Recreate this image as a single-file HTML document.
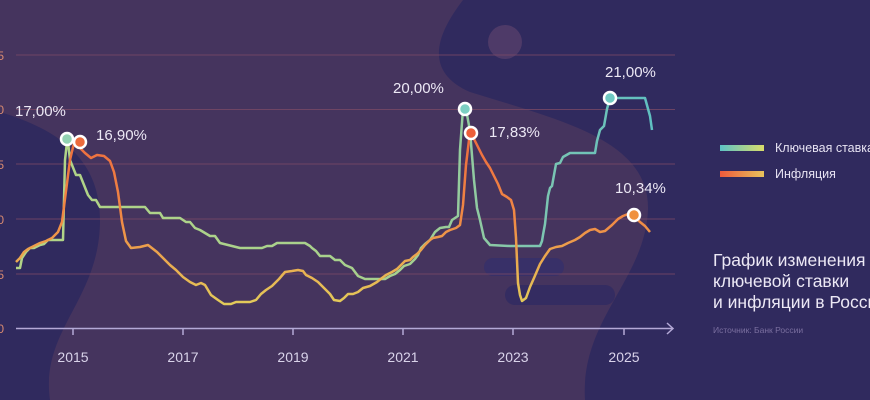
<!DOCTYPE html>
<html><head><meta charset="utf-8"><style>
html,body{margin:0;padding:0;background:#45345e;}
svg{display:block;font-family:"Liberation Sans","DejaVu Sans",sans-serif;}
</style></head><body>
<svg width="870" height="400" viewBox="0 0 870 400" xmlns="http://www.w3.org/2000/svg">
<defs>
<linearGradient id="gi" gradientUnits="userSpaceOnUse" x1="0" y1="130" x2="0" y2="310">
<stop offset="0" stop-color="#ee6a3e"/><stop offset="0.5" stop-color="#f08a45"/><stop offset="1" stop-color="#e2cf5c"/></linearGradient>
<linearGradient id="gk" gradientUnits="userSpaceOnUse" x1="16" y1="0" x2="660" y2="0">
<stop offset="0" stop-color="#b2d487"/><stop offset="0.6" stop-color="#a6d08e"/><stop offset="0.8" stop-color="#7fc6b0"/><stop offset="1" stop-color="#5ebfc2"/></linearGradient>
<linearGradient id="lk" x1="0" x2="1"><stop offset="0" stop-color="#5ec3c6"/><stop offset="1" stop-color="#d9dc6a"/></linearGradient>
<linearGradient id="li" x1="0" x2="1"><stop offset="0" stop-color="#ee5a3c"/><stop offset="1" stop-color="#e8c35c"/></linearGradient>
</defs>
<rect width="870" height="400" fill="#45345e"/>
<path d="M463,0 C440,30 420,70 470,92 C560,120 650,140 648,210 C645,280 580,320 585,400 L870,400 L870,0 Z" fill="#302a5e"/>
<path d="M0,112 C60,130 100,160 100,220 C100,300 40,330 50,400 L0,400 Z" fill="#302a5e"/>
<circle cx="505" cy="42" r="17" fill="#4e3a68"/>
<rect x="484" y="258" width="80" height="18" rx="9" fill="#35306a" opacity="0.8"/>
<rect x="505" y="285" width="110" height="20" rx="10" fill="#2f2a62" opacity="0.8"/>
<g stroke="#7a4a66" stroke-width="1" opacity="0.8">
<line x1="16" y1="55" x2="675" y2="55"/><line x1="16" y1="109.5" x2="675" y2="109.5"/>
<line x1="16" y1="164" x2="675" y2="164"/><line x1="16" y1="219" x2="675" y2="219"/>
<line x1="16" y1="274" x2="675" y2="274"/></g>
<g stroke="#b4a9d6" stroke-width="1.5" fill="none">
<line x1="16" y1="328.5" x2="673" y2="328.5"/><polyline points="667,323 673,328.5 667,334"/>
<line x1="73" y1="328" x2="73" y2="335"/><line x1="183" y1="328" x2="183" y2="335"/>
<line x1="293" y1="328" x2="293" y2="335"/><line x1="403" y1="328" x2="403" y2="335"/>
<line x1="513" y1="328" x2="513" y2="335"/><line x1="624" y1="328" x2="624" y2="335"/></g>
<g fill="#d9d3ea" font-size="14" text-anchor="middle">
<text x="73" y="362">2015</text><text x="183" y="362">2017</text><text x="293" y="362">2019</text>
<text x="403" y="362">2021</text><text x="513" y="362">2023</text><text x="624" y="362">2025</text></g>
<g fill="#d98a70" font-size="12" text-anchor="end">
<text x="4" y="60">25</text><text x="4" y="114">20</text><text x="4" y="169">15</text><text x="4" y="224">10</text><text x="4" y="279">5</text><text x="4" y="333">0</text></g>
<polyline fill="none" stroke="url(#gk)" stroke-width="2.5" stroke-linejoin="round" points="16,268 20,268 22,258 26,252 30,248 34,248 40,245 44,244 48,240 60,240 63,240 65,160 67,142 68,142 70,160 74,170 76,175 80,175 84,185 88,195 92,200 96,200 100,207 145,207 150,213 160,213 163,218 180,218 186,222 190,222 195,228 200,230 205,233 210,236 215,236 220,243 232,246 240,248 262,248 267,246 272,246 277,243 305,243 310,246 312,248 316,251 320,256 330,256 335,260 340,260 345,265 352,268 358,276 365,279 385,279 390,276 395,274 400,270 404,266 410,264 415,259 418,255 421,248 425,244 430,240 435,232 440,228 446,227 449,227 452,220 458,216 460,150 463,109 466,109 470,131 474,180 477,208 480,220 484,238 490,245 510,246 540,246 542,241 543,235 545,224 548,196 550,188 552,186 556,164 560,163 563,157 570,153 595,153 597,141 600,130 604,126 607,109 610,98 645,98 650,116 652,130"/>
<polyline fill="none" stroke="url(#gi)" stroke-width="2.5" stroke-linejoin="round" points="16,262 20,258 24,252 28,249 34,246 40,243 46,241 52,238 58,232 62,222 66,191 70,160 74,143 79,147 85,153 91,158 97,155 104,156 110,161 114,172 118,192 122,222 126,241 131,248 140,247 148,245 157,252 163,258 170,265 176,270 183,277 190,282 196,285 201,283 205,285 211,295 218,300 224,304 231,304 236,302 245,302 250,302 256,300 261,294 266,290 272,286 279,279 285,272 292,271 298,270 303,271 306,275 312,278 318,282 324,288 330,294 334,300 340,301 344,298 348,294 353,294 358,292 363,288 370,286 377,282 382,278 386,275 392,272 397,269 401,265 405,261 410,260 413,257 417,254 421,250 425,245 430,240 433,238 438,237 442,236 446,232 450,230 456,228 460,225 463,205 466,165 469,140 471,133 474,139 478,147 482,155 486,162 490,168 494,176 498,184 502,194 507,197 511,200 514,210 516,238 518,283 520,295 522,301 526,298 530,287 534,278 540,264 545,256 550,249 556,247 562,246 568,243 575,240 580,237 585,233 590,230 595,229 600,232 605,231 612,225 618,219 623,216 628,214 634,216 640,222 645,226 650,232"/>
<g stroke="#ffffff" stroke-width="2.5">
<circle cx="67" cy="139" r="6" fill="#93d2b3"/>
<circle cx="80" cy="142" r="6" fill="#ec6a3c"/>
<circle cx="465" cy="109" r="6" fill="#7ccfc2"/>
<circle cx="471" cy="133" r="6" fill="#ec5f3a"/>
<circle cx="610" cy="98" r="6" fill="#6fc9c2"/>
<circle cx="634" cy="215" r="6" fill="#f0913e"/></g>
<g fill="#ece8f5" font-size="15">
<text x="15" y="116">17,00%</text><text x="96" y="140">16,90%</text>
<text x="393" y="93">20,00%</text><text x="489" y="137">17,83%</text>
<text x="605" y="77">21,00%</text><text x="615" y="193">10,34%</text></g>
<rect x="720" y="145" width="44" height="6" fill="url(#lk)"/>
<rect x="720" y="171" width="44" height="6" fill="url(#li)"/>
<g fill="#e6e2f2" font-size="12.5"><text x="775" y="152">Ключевая ставка</text><text x="775" y="178">Инфляция</text></g>
<g fill="#ece8f5" font-size="17.5"><text x="713" y="266">График изменения</text><text x="713" y="287">ключевой ставки</text><text x="713" y="308">и инфляции в России</text></g>
<text x="713" y="333" fill="#7a6f9f" font-size="8.5">Источник: Банк России</text>
</svg>
</body></html>
